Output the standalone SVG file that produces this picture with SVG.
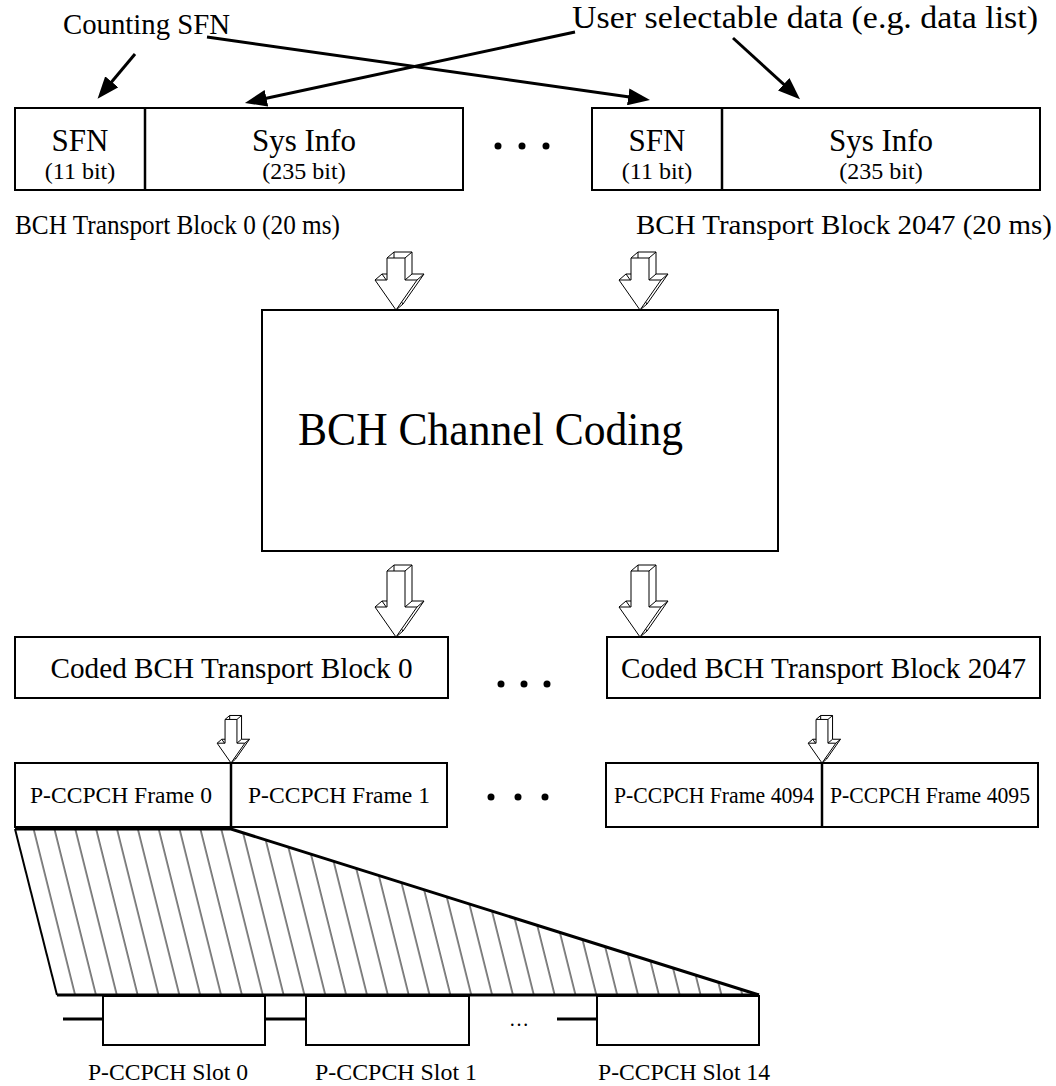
<svg xmlns="http://www.w3.org/2000/svg" width="1056" height="1086" viewBox="0 0 1056 1086">
<style>
text{font-family:"Liberation Serif","Times New Roman",serif;fill:#000}
.box{fill:#fff;stroke:#000;stroke-width:2}
.div{stroke:#000;stroke-width:2.5}
.lbl{font-size:31px;text-anchor:middle}
.sub{font-size:24px;text-anchor:middle}
.tb{font-size:27px}
.cod{font-size:30px;text-anchor:middle}
.frm{font-size:24px;text-anchor:middle}
.slt{font-size:24px}
.con{stroke:#000;stroke-width:3;fill:none;marker-end:url(#ah)}
.a3 path{fill:#fff;stroke:#000;stroke-width:1;vector-effect:non-scaling-stroke;stroke-linejoin:miter}
.thick{stroke:#000;stroke-width:3;fill:none}
</style>
<defs>
<marker id="ah" markerUnits="userSpaceOnUse" viewBox="0 0 22 17" refX="12" refY="8.5" markerWidth="22" markerHeight="17" orient="auto">
<path d="M0,0 L22,8.5 L0,17 Z" fill="#000"/>
</marker>
<g id="arrow3d-short" class="a3">
<path d="M-2,-58 L16,-58 L16,-36 L28,-36 L7,-6 L-14,-36 L-2,-36 Z"/>
<path d="M-9,-52 L-2,-58 M9,-52 L16,-58 M9,-30 L16,-36 M21,-30 L28,-36 M0,0 L7,-6 M-21,-30 L-14,-36"/>
<path d="M-9,-52 L9,-52 L9,-30 L21,-30 L0,0 L-21,-30 L-9,-30 Z"/>
</g>
<g id="arrow3d-long" class="a3">
<path d="M-2,-72 L16,-72 L16,-36 L28,-36 L7,-6 L-14,-36 L-2,-36 Z"/>
<path d="M-9,-66 L-2,-72 M9,-66 L16,-72 M9,-30 L16,-36 M21,-30 L28,-36 M0,0 L7,-6 M-21,-30 L-14,-36"/>
<path d="M-9,-66 L9,-66 L9,-30 L21,-30 L0,0 L-21,-30 L-9,-30 Z"/>
</g>
<pattern id="hatch" patternUnits="userSpaceOnUse" width="20.85" height="1086" patternTransform="skewX(14.04)">
<line x1="13.95" y1="0" x2="13.95" y2="1086" stroke="#000" stroke-width="1"/>
</pattern>
</defs>

<g id="label-counting-sfn"><text x="63" y="34" font-size="30" textLength="167" lengthAdjust="spacingAndGlyphs">Counting SFN</text></g>
<g id="label-user-data"><text x="572" y="28" font-size="31" textLength="466" lengthAdjust="spacingAndGlyphs">User selectable data (e.g. data list)</text></g>

<g id="connectors">
<line class="con" x1="135" y1="54" x2="104" y2="91"/>
<line class="con" x1="207" y1="37" x2="640.1" y2="98.6"/>
<line class="con" x1="575" y1="32" x2="254.7" y2="100.8"/>
<line class="con" x1="733" y1="38" x2="792.6" y2="92.4"/>
<use href="#arrow3d-short" transform="translate(396,310)"/>
<use href="#arrow3d-short" transform="translate(640,310)"/>
<use href="#arrow3d-long" transform="translate(396,637)"/>
<use href="#arrow3d-long" transform="translate(640,637)"/>
<use href="#arrow3d-long" transform="translate(231,763) scale(0.66)"/>
<use href="#arrow3d-long" transform="translate(822,763) scale(0.66)"/>
</g>

<g id="bch-block-0">
<rect class="box" x="15" y="108" width="448" height="82"/>
<line class="div" x1="145" y1="108" x2="145" y2="190"/>
<text class="lbl" x="80" y="151">SFN</text>
<text class="sub" x="80" y="179">(11 bit)</text>
<text class="lbl" x="304" y="151">Sys Info</text>
<text class="sub" x="304" y="179">(235 bit)</text>
<text class="tb" x="15" y="234" textLength="325" lengthAdjust="spacingAndGlyphs">BCH Transport Block 0 (20 ms)</text>
</g>

<g id="dots-top"><circle cx="498" cy="146" r="3.5"/><circle cx="522" cy="146" r="3.5"/><circle cx="546" cy="146" r="3.5"/></g>

<g id="bch-block-2047">
<rect class="box" x="592" y="108" width="448" height="82"/>
<line class="div" x1="722" y1="108" x2="722" y2="190"/>
<text class="lbl" x="657" y="151">SFN</text>
<text class="sub" x="657" y="179">(11 bit)</text>
<text class="lbl" x="881" y="151">Sys Info</text>
<text class="sub" x="881" y="179">(235 bit)</text>
<text class="tb" x="636" y="234" textLength="416" lengthAdjust="spacingAndGlyphs">BCH Transport Block 2047 (20 ms)</text>
</g>

<g id="bch-channel-coding">
<rect class="box" x="262" y="310" width="516" height="241"/>
<text x="298" y="445" font-size="46" textLength="385" lengthAdjust="spacingAndGlyphs">BCH Channel Coding</text>
</g>

<g id="coded-block-0">
<rect class="box" x="15" y="637" width="433" height="61"/>
<text class="cod" x="231.5" y="678" textLength="362" lengthAdjust="spacingAndGlyphs">Coded BCH Transport Block 0</text>
</g>
<g id="dots-coded"><circle cx="501" cy="684" r="3.5"/><circle cx="524" cy="684" r="3.5"/><circle cx="547" cy="684" r="3.5"/></g>
<g id="coded-block-2047">
<rect class="box" x="607" y="637" width="433" height="61"/>
<text class="cod" x="823.5" y="678" textLength="405" lengthAdjust="spacingAndGlyphs">Coded BCH Transport Block 2047</text>
</g>

<g id="frames-0-1">
<rect class="box" x="15" y="763" width="432" height="64"/>
<line class="div" x1="231" y1="763" x2="231" y2="827"/>
<text class="frm" x="121" y="803" textLength="182" lengthAdjust="spacingAndGlyphs">P-CCPCH Frame 0</text>
<text class="frm" x="339" y="803" textLength="182" lengthAdjust="spacingAndGlyphs">P-CCPCH Frame 1</text>
</g>
<g id="dots-frames"><circle cx="491" cy="797" r="3.5"/><circle cx="518" cy="797" r="3.5"/><circle cx="545" cy="797" r="3.5"/></g>
<g id="frames-4094-4095">
<rect class="box" x="606" y="763" width="432" height="64"/>
<line class="div" x1="822" y1="763" x2="822" y2="827"/>
<text class="frm" x="714" y="803" textLength="200" lengthAdjust="spacingAndGlyphs">P-CCPCH Frame 4094</text>
<text class="frm" x="930" y="803" textLength="200" lengthAdjust="spacingAndGlyphs">P-CCPCH Frame 4095</text>
</g>

<g id="frame-expansion">
<polygon points="15,829 231,829 759,995 57,995" fill="url(#hatch)" stroke="none"/>
<polyline class="thick" points="15,829 231,829 759,995"/>
<line x1="15" y1="829" x2="57" y2="995" stroke="#000" stroke-width="2"/>
<line class="thick" x1="57" y1="995" x2="759" y2="995"/>
</g>

<g id="slots">
<line class="thick" x1="63" y1="1019" x2="103" y2="1019"/>
<rect class="box" x="103" y="996" width="162" height="49"/>
<line class="thick" x1="265" y1="1019" x2="306" y2="1019"/>
<rect class="box" x="306" y="996" width="163" height="49"/>
<text x="519" y="1026" font-size="20" text-anchor="middle">…</text>
<line class="thick" x1="557" y1="1019" x2="597" y2="1019"/>
<rect class="box" x="597" y="996" width="162" height="49"/>
<text class="slt" x="88" y="1080" textLength="160" lengthAdjust="spacingAndGlyphs">P-CCPCH Slot 0</text>
<text class="slt" x="315" y="1080" textLength="162" lengthAdjust="spacingAndGlyphs">P-CCPCH Slot 1</text>
<text class="slt" x="598" y="1080" textLength="172" lengthAdjust="spacingAndGlyphs">P-CCPCH Slot 14</text>
</g>
</svg>
